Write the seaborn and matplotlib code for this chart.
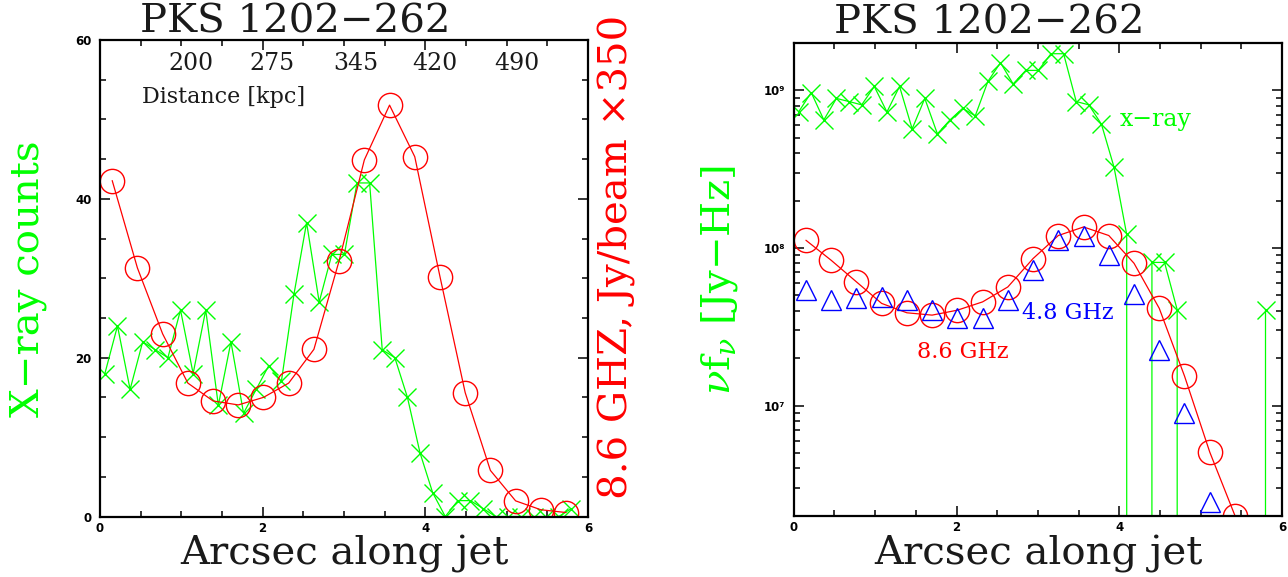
import matplotlib
matplotlib.use("Agg")
import matplotlib.pyplot as plt
import seaborn as sns
from matplotlib.ticker import MultipleLocator, LogLocator, NullFormatter

# ------------------------------------------------------------------ data
title_text = "PKS 1202\u2212262"

# X-ray profile (counts and nu f_nu), positions along the jet [arcsec]
xray_arcsec = [0.06, 0.215, 0.37, 0.525, 0.68, 0.835, 0.99, 1.145, 1.30, 1.455,
               1.61, 1.765, 1.92, 2.075, 2.23, 2.385, 2.54, 2.695, 2.85, 3.005,
               3.16, 3.315, 3.47, 3.625, 3.78, 3.935, 4.09, 4.245, 4.40, 4.555,
               4.71, 4.865, 5.02, 5.175, 5.33, 5.485, 5.64, 5.795]
xray_counts = [18, 24, 16, 22, 21, 20, 26, 18, 26, 14,
               22, 13, 16, 19, 17, 28, 37, 27, 33, 33,
               42, 42, 21, 20, 15, 8, 3, 0, 2, 2,
               1, 0, 0, 0, 0, 0, 0, 1]
xray_nufnu = [7.3e8, 9.7e8, 6.5e8, 8.9e8, 8.5e8, 8.1e8, 1.06e9, 7.3e8, 1.06e9, 5.7e8,
              8.9e8, 5.3e8, 6.5e8, 7.7e8, 6.9e8, 1.14e9, 1.5e9, 1.1e9, 1.34e9, 1.34e9,
              1.71e9, 1.71e9, 8.5e8, 8.1e8, 6.1e8, 3.25e8, 1.22e8, 0.0, 8.1e7, 8.1e7,
              4.06e7, 0.0, 0.0, 0.0, 0.0, 0.0, 0.0, 4.06e7]

# 8.6 GHz radio profile
radio86_arcsec = [0.15, 0.46, 0.77, 1.08, 1.39, 1.70, 2.01, 2.32, 2.63, 2.94,
                  3.25, 3.56, 3.87, 4.18, 4.49, 4.80, 5.11, 5.42, 5.73]
radio86_x350 = [42.3, 31.3, 23.0, 16.8, 14.55, 14.05, 15.0, 16.8, 21.05, 32.2,
                44.9, 51.8, 45.3, 30.2, 15.6, 5.8, 1.97, 0.85, 0.5]
radio86_nufnu = [1.12e8, 8.36e7, 6.1e7, 4.45e7, 3.88e7, 3.75e7, 4.03e7, 4.55e7, 5.66e7, 8.57e7,
                 1.2e8, 1.36e8, 1.2e8, 8.0e7, 4.14e7, 1.54e7, 5.07e6, 2.0e6, 1.2e6]

# 4.8 GHz radio profile
radio48_arcsec = [0.15, 0.46, 0.77, 1.08, 1.39, 1.70, 2.01, 2.32, 2.63, 2.94,
                  3.25, 3.56, 3.87, 4.18, 4.49, 4.80, 5.11]
radio48_nufnu = [5.4e7, 4.67e7, 4.83e7, 4.9e7, 4.67e7, 4.07e7, 3.57e7, 3.57e7, 4.67e7, 7.3e7,
                 1.13e8, 1.19e8, 9.0e7, 5.1e7, 2.24e7, 9.0e6, 2.43e6]

# distance scale written inside the left panel
kpc_labels = ["200", "275", "345", "420", "490"]
kpc_label_arcsec = [1.12, 2.12, 3.14, 4.12, 5.12]

x_ticks = [0, 2, 4, 6]
x_tick_labels = ["0", "2", "4", "6"]
left_y_ticks = [0, 20, 40, 60]
left_y_tick_labels = ["0", "20", "40", "60"]
right_y_ticks = [1e7, 1e8, 1e9]
right_y_tick_labels = ["10\u2077", "10\u2078", "10\u2079"]

# ------------------------------------------------------------------ style
sns.set_theme(style="ticks")
plt.rcParams["font.family"] = ["DejaVu Serif", "DejaVu Sans"]
plt.rcParams["mathtext.fontset"] = "dejavuserif"

GREEN = "#00ff00"
RED = "#ff0000"
BLUE = "#0000ff"
TXT = "#1a1a1a"
SERIF = "DejaVu Serif"
BIG = 29

W, H = 1288, 577
fig = plt.figure(figsize=(W / 100, H / 100), dpi=100)
axL = fig.add_axes([100 / W, 1 - 516.5 / H, 488 / W, 476.5 / H])
axR = fig.add_axes([793.7 / W, 1 - 515.7 / H, 488.5 / W, 472.7 / H])

# ------------------------------------------------------------------ left panel
sns.lineplot(x=xray_arcsec, y=xray_counts, ax=axL, color=GREEN, lw=0.9,
             marker="x", markersize=13, markeredgewidth=1.0,
             markeredgecolor=GREEN, errorbar=None, sort=False)
sns.lineplot(x=radio86_arcsec, y=radio86_x350, ax=axL, color=RED, lw=0.9,
             marker="o", markersize=17.5, markerfacecolor="none",
             markeredgecolor=RED, markeredgewidth=1.0, errorbar=None, sort=False)

axL.set_xlim(0, 6)
axL.set_ylim(0, 60)
axL.set_xticks(x_ticks, labels=x_tick_labels, fontweight="bold",
               fontfamily="DejaVu Sans", fontsize=8.5)
axL.set_yticks(left_y_ticks, labels=left_y_tick_labels, fontweight="bold",
               fontfamily="DejaVu Sans", fontsize=8.5)
axL.xaxis.set_minor_locator(MultipleLocator(0.5))
axL.yaxis.set_minor_locator(MultipleLocator(5))

for lab, xpos in zip(kpc_labels, kpc_label_arcsec):
    axL.text(xpos, 57.0, lab, ha="center", va="center", fontsize=17,
             family=SERIF, color=TXT)
axL.text(0.513, 52.8, "Distance [kpc]", ha="left", va="center", fontsize=16,
         family=SERIF, color=TXT)

axL.set_xlabel("Arcsec along jet", fontsize=BIG, family=SERIF, color=TXT)
axL.xaxis.set_label_coords(0.5, -0.101)
axL.xaxis.label.set_verticalalignment("baseline")
axL.set_ylabel("X\u2212ray counts", fontsize=BIG, family=SERIF, color=GREEN)
axL.yaxis.set_label_coords(-0.147, 0.5)
axL.yaxis.label.set_verticalalignment("center")
axL.text(1.059, 0.544, "8.6 GHZ, Jy/beam \u00d7350", transform=axL.transAxes,
         rotation=90, rotation_mode="anchor", ha="center", va="center",
         fontsize=BIG, family=SERIF, color=RED)
axL.set_title(title_text, fontsize=BIG, family=SERIF, color=TXT,
              x=0.40, y=1 + 7.5 / 476.5, pad=0, va="baseline")

# ------------------------------------------------------------------ right panel
sns.lineplot(x=xray_arcsec, y=xray_nufnu, ax=axR, color=GREEN, lw=0.9,
             marker="x", markersize=13, markeredgewidth=1.0,
             markeredgecolor=GREEN, errorbar=None, sort=False)
sns.lineplot(x=radio86_arcsec, y=radio86_nufnu, ax=axR, color=RED, lw=0.9,
             marker="o", markersize=17.5, markerfacecolor="none",
             markeredgecolor=RED, markeredgewidth=1.0, errorbar=None, sort=False)
sns.lineplot(x=radio48_arcsec, y=radio48_nufnu, ax=axR, color=BLUE,
             linestyle="none", marker="^", markersize=14.5, markerfacecolor="none",
             markeredgecolor=BLUE, markeredgewidth=1.0, errorbar=None, sort=False)

axR.set_yscale("log", nonpositive="clip")
axR.set_xlim(0, 6)
axR.set_ylim(2e6, 2e9)
axR.set_xticks(x_ticks, labels=x_tick_labels, fontweight="bold",
               fontfamily="DejaVu Sans", fontsize=8.5)
axR.set_yticks(right_y_ticks, labels=right_y_tick_labels, fontweight="bold",
               fontfamily="DejaVu Sans", fontsize=8.5)
axR.xaxis.set_minor_locator(MultipleLocator(0.5))
axR.yaxis.set_minor_locator(LogLocator(base=10, subs=[2, 3, 4, 5, 6, 7, 8, 9], numticks=20))
axR.yaxis.set_minor_formatter(NullFormatter())

axR.text(4.0, 6.5e8, "x\u2212ray", ha="left", va="center", fontsize=17,
         family=SERIF, color=GREEN)
axR.text(2.80, 3.85e7, "4.8 GHz", ha="left", va="center", fontsize=16,
         family=SERIF, color=BLUE)
axR.text(1.51, 2.2e7, "8.6 GHz", ha="left", va="center", fontsize=16,
         family=SERIF, color=RED)

axR.set_xlabel("Arcsec along jet", fontsize=BIG, family=SERIF, color=TXT)
axR.xaxis.set_label_coords(0.5, -0.104)
axR.xaxis.label.set_verticalalignment("baseline")
axR.set_ylabel("$\\nu$f$_\\nu$ [Jy\u2212Hz]", fontsize=BIG, family=SERIF, color=GREEN)
axR.yaxis.set_label_coords(-0.151, 0.498)
axR.yaxis.label.set_verticalalignment("center")
axR.set_title(title_text, fontsize=BIG, family=SERIF, color=TXT,
              x=0.40, y=1 + 9.5 / 472.7, pad=0, va="baseline")

# ------------------------------------------------------------------ frames & ticks
for ax in (axL, axR):
    ax.tick_params(which="both", direction="in", top=True, right=True,
                   bottom=True, left=True, width=1.1, color="black",
                   labelcolor="black")
    ax.tick_params(which="major", length=7, pad=6)
    ax.tick_params(which="minor", length=4)
    ax.tick_params(axis="x", which="major", pad=4)
    for sp in ax.spines.values():
        sp.set_linewidth(1.6)
        sp.set_color("black")
    ax.grid(False)

fig.savefig("out.png", dpi=100)
